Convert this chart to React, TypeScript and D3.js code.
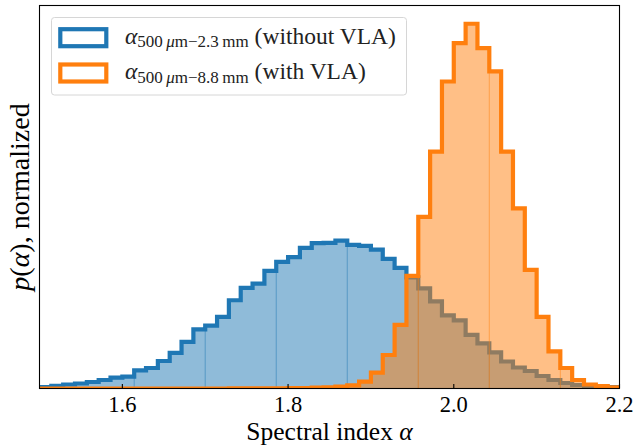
import React, { useRef, useEffect } from 'react';
import * as d3 from 'd3';

// histogram bins: np.linspace(1.5, 2.2, 50)
const binStart = 1.5;
const binEnd = 2.2;
const nBins = 49;

// counts (arbitrary units)
const blueCounts = [
  1.5, 2.7, 4, 5, 6.5, 8.5, 10.8, 11.8, 18.2, 20.5, 27.5, 35.5, 46.5, 59, 62.8, 71.5, 88.2,
  100.5, 104.8, 117.5, 126.5, 131.2, 140.5, 145.2, 145.5, 147.8, 143.5, 142.5, 138.7, 129.5,
  120.5, 111, 100, 87, 73, 68, 53.5, 45, 36, 27, 21, 17.5, 12.5, 8.5, 5.5, 3.5, 2.5, 2, 1.5,
];
const orangeCounts = [
  0, 0, 0, 0, 0, 0, 0, 0, 0, 0, 0, 0, 0, 0, 0, 0, 0.1, 0.1, 0.1, 0.2, 0.2, 0.3, 0.5, 0.8, 1.2,
  1.8, 3.2, 6.8, 15.8, 33.5, 63.5, 112.5, 171.5, 236.8, 306.8, 345.2, 364.5, 340.2, 316.8,
  236.8, 180, 118.5, 71.5, 37, 20.5, 8.5, 4, 2.5, 1.2,
];

// path chunk seams of the filled polygons (every 6th bin edge)
const seamEdges = [8, 14, 20, 26, 32, 38, 44];

const xTicks = [1.6, 1.8, 2.0, 2.2];

const BLUE = '#1f77b4';
const ORANGE = '#ff7f0e';
const FONT = '"Liberation Serif", "Times New Roman", serif';

const App = () => {
  const svgRef = useRef<SVGSVGElement>(null);

  useEffect(() => {
    const W = 637;
    const H = 445;
    const left = 39.5;
    const right = 619.5;
    const top = 5.5;
    const bottom = 388.5;

    const svg = d3.select(svgRef.current);
    svg.selectAll('*').remove();
    svg.attr('width', W).attr('height', H).attr('viewBox', `0 0 ${W} ${H}`);

    const x = d3.scaleLinear().domain([1.5, 2.2]).range([left, right]);
    const ymax = (d3.max(orangeCounts) as number) * 1.05;
    const y = d3.scaleLinear().domain([0, ymax]).range([bottom, top]);

    const edges = d3.range(nBins + 1).map((i) => binStart + ((binEnd - binStart) * i) / nBins);

    svg
      .append('defs')
      .append('clipPath')
      .attr('id', 'plotclip')
      .append('rect')
      .attr('x', left)
      .attr('y', top)
      .attr('width', right - left)
      .attr('height', bottom - top);

    const g = svg.append('g').attr('clip-path', 'url(#plotclip)');

    const drawHist = (counts: number[], color: string) => {
      const pts = counts.map((c, i) => [edges[i], c] as [number, number]);
      pts.push([edges[nBins], counts[nBins - 1]]);

      const area = d3
        .area<[number, number]>()
        .x((d) => x(d[0]))
        .y0(y(0))
        .y1((d) => y(d[1]))
        .curve(d3.curveStepAfter);

      g.append('path')
        .datum(pts)
        .attr('fill', color)
        .attr('fill-opacity', 0.5)
        .attr('stroke', 'none')
        .attr('d', area);

      seamEdges.forEach((k) => {
        const h = Math.min(counts[k - 1], counts[k]);
        g.append('line')
          .attr('x1', x(edges[k]))
          .attr('x2', x(edges[k]))
          .attr('y1', y(0))
          .attr('y2', y(h))
          .attr('stroke', color)
          .attr('stroke-opacity', 0.5)
          .attr('stroke-width', 1);
      });

      const stepPts: [number, number][] = [[edges[0], 0], ...pts, [edges[nBins], 0]];
      const line = d3
        .line<[number, number]>()
        .x((d) => x(d[0]))
        .y((d) => y(d[1]))
        .curve(d3.curveStepAfter);

      g.append('path')
        .datum(stepPts)
        .attr('fill', 'none')
        .attr('stroke', color)
        .attr('stroke-width', 4.2)
        .attr('stroke-linejoin', 'miter')
        .attr('d', line);
    };

    drawHist(blueCounts, BLUE);
    drawHist(orangeCounts, ORANGE);

    // ticks (inward) and labels
    xTicks.forEach((t) => {
      svg
        .append('line')
        .attr('x1', x(t))
        .attr('x2', x(t))
        .attr('y1', bottom)
        .attr('y2', bottom - 4.5)
        .attr('stroke', '#000')
        .attr('stroke-width', 1.1);
      svg
        .append('text')
        .attr('x', x(t))
        .attr('y', 411.5)
        .attr('text-anchor', 'middle')
        .attr('font-family', FONT)
        .attr('font-size', 22.5)
        .attr('fill', '#000')
        .text(d3.format('.1f')(t));
    });

    // frame
    svg
      .append('rect')
      .attr('x', left)
      .attr('y', top)
      .attr('width', right - left)
      .attr('height', bottom - top)
      .attr('fill', 'none')
      .attr('stroke', '#000')
      .attr('stroke-width', 1.1);

    // axis labels
    const xl = svg
      .append('text')
      .attr('x', (left + right) / 2)
      .attr('y', 439.5)
      .attr('text-anchor', 'middle')
      .attr('font-family', FONT)
      .attr('font-size', 25.5)
      .attr('fill', '#000');
    xl.append('tspan').text('Spectral index ');
    xl.append('tspan').attr('font-style', 'italic').text('α');

    const yl = svg
      .append('text')
      .attr('transform', `translate(28.5,${(top + bottom) / 2}) rotate(-90)`)
      .attr('text-anchor', 'middle')
      .attr('font-family', FONT)
      .attr('font-size', 28)
      .attr('fill', '#000');
    yl.append('tspan').attr('font-style', 'italic').text('p');
    yl.append('tspan').text('(');
    yl.append('tspan').attr('font-style', 'italic').text('α');
    yl.append('tspan').text('), normalized');

    // legend
    const lg = svg.append('g');
    lg.append('rect')
      .attr('x', 51.5)
      .attr('y', 17.5)
      .attr('width', 355)
      .attr('height', 77.5)
      .attr('rx', 3)
      .attr('fill', '#fff')
      .attr('fill-opacity', 0.8)
      .attr('stroke', '#d6d6d6')
      .attr('stroke-width', 1);

    const entries = [
      { color: BLUE, sub: '2.3', rest: ' (without VLA)', cy: 37.7 },
      { color: ORANGE, sub: '8.8', rest: ' (with VLA)', cy: 73 },
    ];
    entries.forEach((e) => {
      lg.append('rect')
        .attr('x', 60.3)
        .attr('y', e.cy - 8.5)
        .attr('width', 46)
        .attr('height', 17)
        .attr('fill', 'none')
        .attr('stroke', e.color)
        .attr('stroke-width', 4.2);
      const t = lg
        .append('text')
        .attr('x', 125)
        .attr('y', e.cy + 6)
        .attr('font-family', FONT)
        .attr('font-size', 23.5)
        .attr('fill', '#222');
      t.append('tspan').attr('font-style', 'italic').text('α');
      t.append('tspan').attr('font-size', 17).attr('dy', 3.5).text('500\u2009');
      t.append('tspan').attr('font-size', 17).attr('font-style', 'italic').text('μ');
      t.append('tspan').attr('font-size', 17).text(`m−${e.sub}\u2009mm`);
      t.append('tspan').attr('dy', -3.5).text(e.rest);
    });
  }, []);

  return (
    <svg
      ref={svgRef}
      style={{ position: 'absolute', left: 0, top: 0, background: '#fff' }}
      width={637}
      height={445}
    />
  );
};

export default App;
